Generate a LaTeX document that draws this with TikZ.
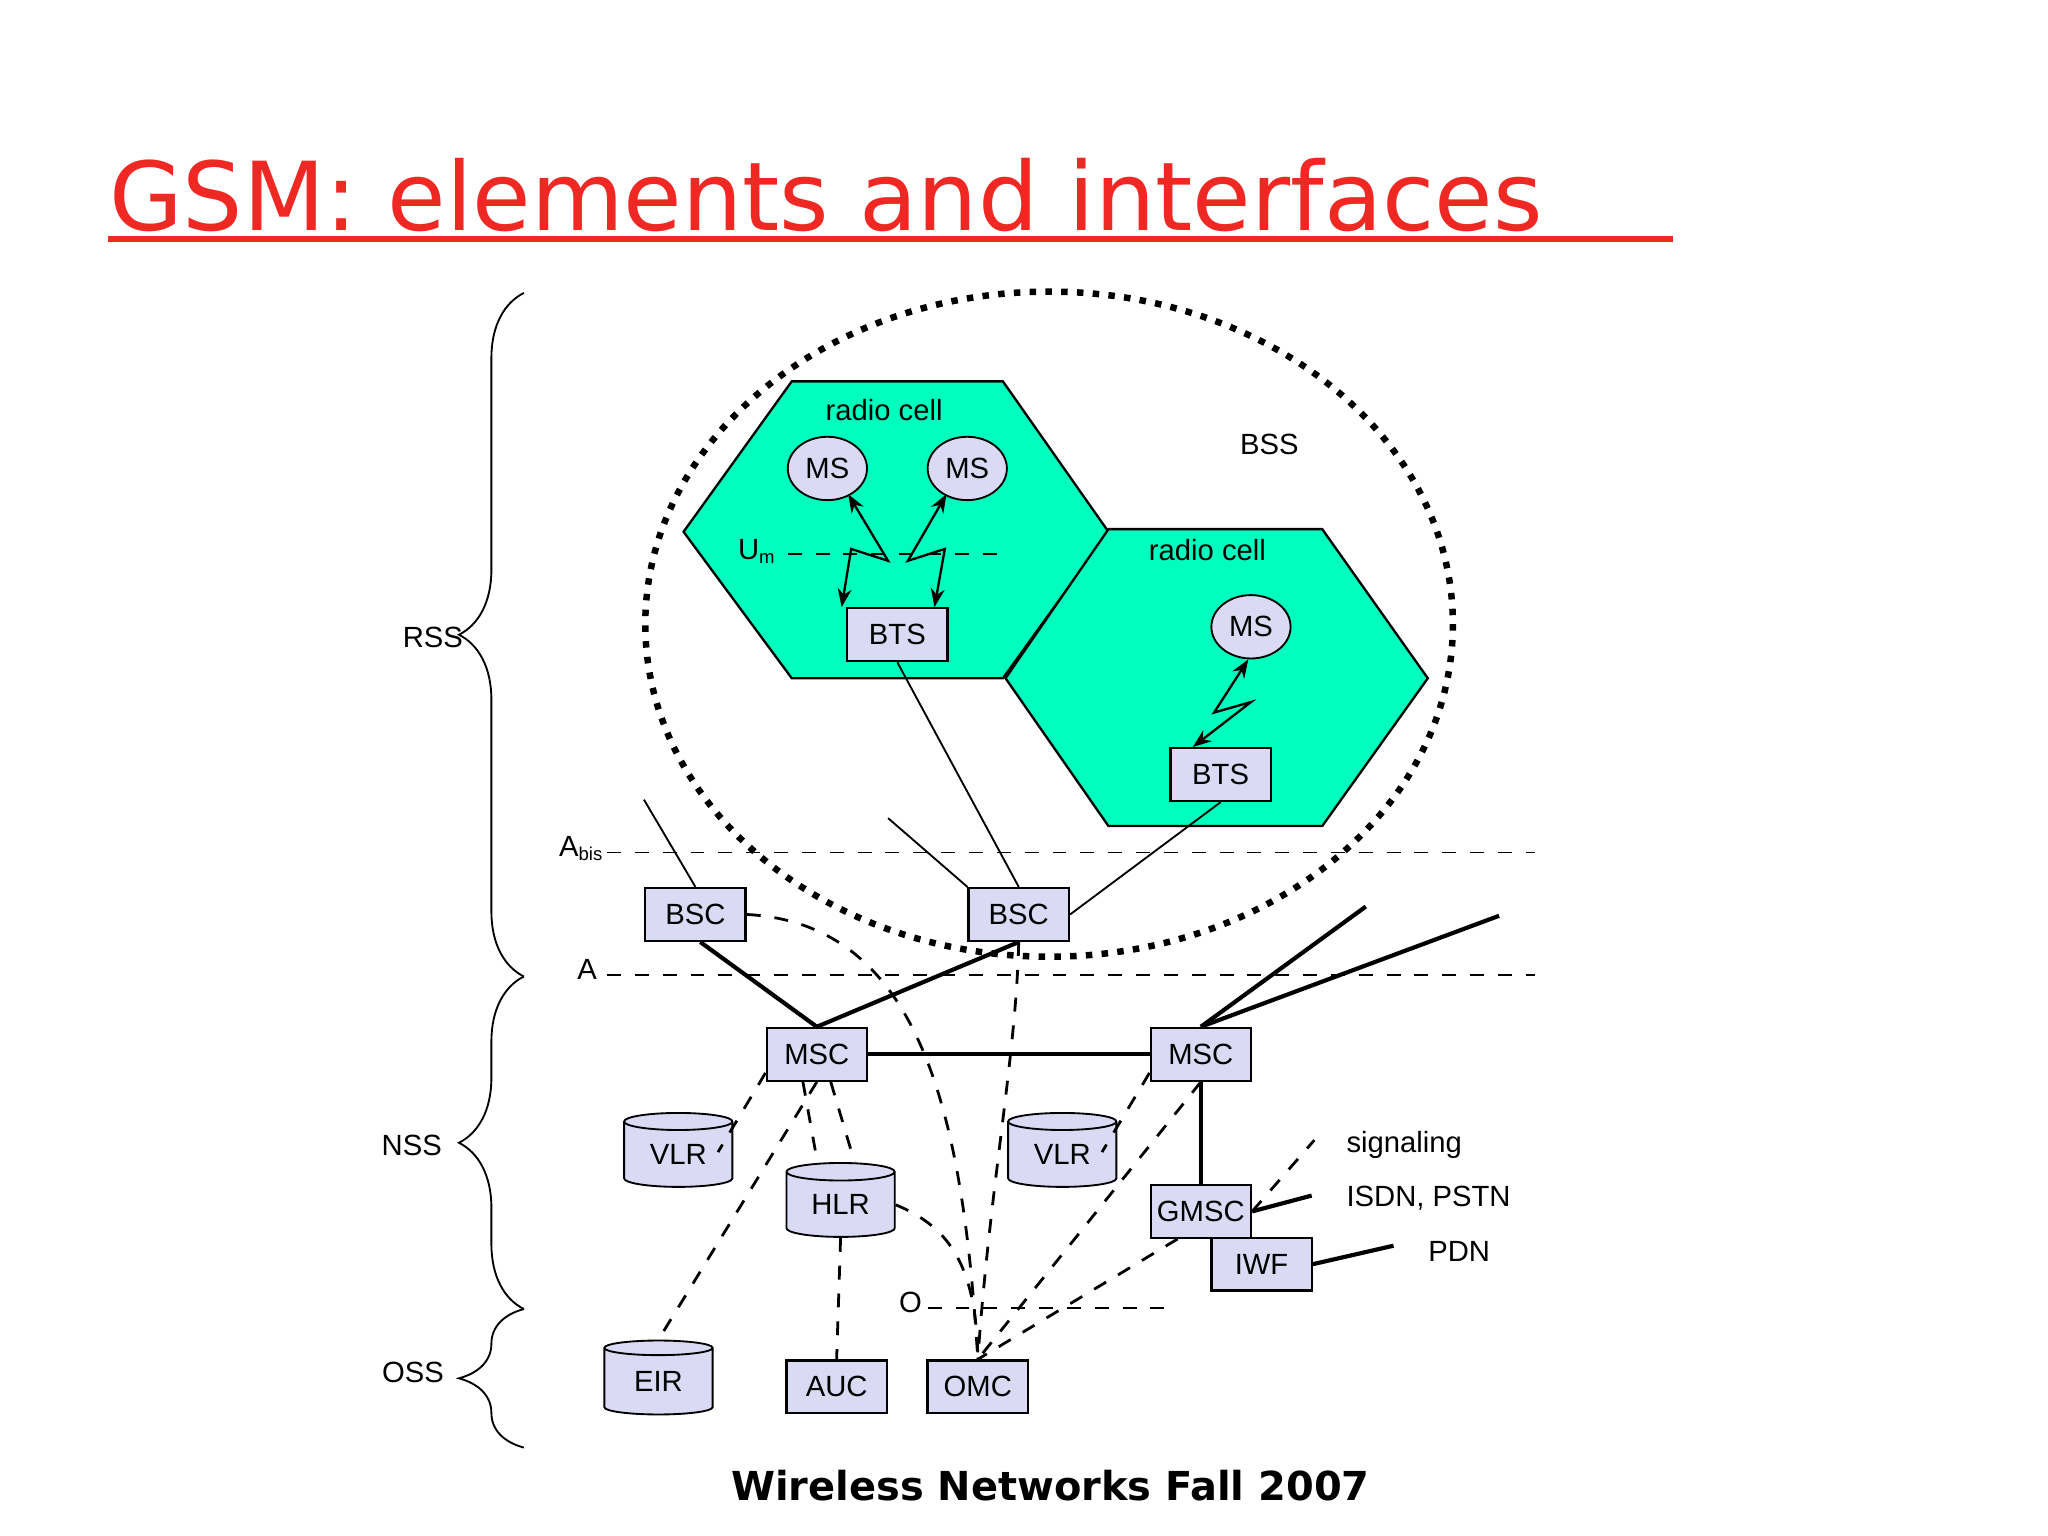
\documentclass[tikz,border=0pt]{standalone}
\usepackage{fontspec}
\setmainfont{Liberation Sans}
\newfontfamily\titlefont{DejaVu Sans}
\usetikzlibrary{shapes.geometric,decorations.pathreplacing,arrows.meta}
\definecolor{cellc}{RGB}{0,255,190}
\definecolor{boxc}{RGB}{218,218,245}
\definecolor{titlec}{RGB}{240,40,35}
\begin{document}
\begin{tikzpicture}[x=0.01cm,y=-0.01cm,
  every node/.style={font=\fontsize{6.3}{7}\selectfont},
  unit/.style={draw,fill=boxc,minimum width=0.76cm,minimum height=0.4cm,inner sep=0pt,line width=0.5pt},
  msnode/.style={draw,fill=boxc,ellipse,minimum width=0.6cm,minimum height=0.48cm,inner sep=0pt},
  db/.style={draw,fill=boxc,cylinder,shape border rotate=90,aspect=0.3,minimum width=0.82cm,minimum height=0.56cm,inner sep=0pt},
  lbl/.style={inner sep=1pt},
  sig/.style={dashed,line width=0.6pt},
  tr/.style={line width=0.9pt},
  bolt/.style={{Stealth[length=4pt]}-{Stealth[length=4pt]},line width=0.5pt}]
\useasboundingbox (0,0) rectangle (1552,1164);
% title
\node[anchor=base west,inner sep=0pt,text=titlec,font=\titlefont\fontsize{20.5}{24}\selectfont] (title) at (82,175) {GSM: elements and interfaces};
\draw[titlec,line width=1.3pt] (82,181) -- (1268,181);
\node[font=\titlefont\bfseries\fontsize{8.6}{10}\selectfont] (foot) at (796,1126) {Wireless Networks Fall 2007};
% cells
\draw[fill=cellc,line width=0.5pt] (518,403)--(600,289)--(760,289)--(840,403)--(760,514)--(600,514)--cycle;
\draw[fill=cellc,line width=0.5pt] (762,514)--(840,401)--(1002,401)--(1082,514)--(1002,626)--(840,626)--cycle;
\draw[dotted,line width=1.4pt] (795,473) ellipse [x radius=306,y radius=252];
\node (rc1) at (670,311) {radio cell};
\node (rc2) at (915,417) {radio cell};
\node (bss) at (962,337) {BSS};
\node[msnode] (ms1) at (627,355) {MS};
\node[msnode] (ms2) at (733,355) {MS};
\node[msnode] (ms3) at (948,475) {MS};
\node[unit] (bts1) at (680,481) {BTS};
\node[unit] (bts2) at (925,587) {BTS};
\node (um) at (574,418) {U\textsubscript{\fontsize{4}{4}\selectfont m}};
\coordinate (um1) at (597,420); \coordinate (um2) at (760,420);
\draw[dashed] (um1) -- (um2);
\draw[bolt] (ms1.south east) ++(-6,2) -- (673,425) -- (645,416) -- ([xshift=-12]bts1.north);
\draw[bolt] (ms2.south west) ++(6,2) -- (688,425) -- (716,416) -- ([xshift=8]bts1.north);
\draw[bolt] (ms3.south) ++(-2,0) -- (920,540) -- (948,532) -- ([xshift=-6]bts2.north);
% BSCs
\node[unit] (bsc1) at (527,693) {BSC};
\node[unit] (bsc2) at (772,693) {BSC};
\coordinate (l1) at (488,606); \coordinate (l2) at (673,620);
\draw (bts1.south) -- (bsc2.north);
\draw (bts2.south) -- (bsc2.east);
\draw (l1) -- (bsc1.north);
\draw (l2) -- (bsc2.north west);
% interfaces
\node (abis) at (441,643) {A\textsubscript{\fontsize{4}{4}\selectfont bis}};
\node (aif) at (445,735) {A};
\coordinate (ab1) at (460,646); \coordinate (ab2) at (1163,646);
\coordinate (a1) at (460,739); \coordinate (a2) at (1163,739);
\draw[dashed] (ab1) -- (ab2);
\draw[dashed] (a1) -- (a2);
% NSS
\node[unit] (msc1) at (619,799) {MSC};
\node[unit] (msc2) at (910,799) {MSC};
\node[unit] (gmsc) at (910,918) {GMSC};
\node[unit] (iwf) at (956,958) {IWF};
\node[db] (vlr1) at (514,875) {VLR};
\node[db] (vlr2) at (805,875) {VLR};
\node[db] (hlr) at (637,913) {HLR};
\node[db] (eir) at (499,1047) {EIR};
\node[unit] (auc) at (634,1051) {AUC};
\node[unit] (omc) at (741,1051) {OMC};
\coordinate (x1) at (1035,687); \coordinate (x2) at (1136,694);
\draw[tr] ([xshift=-10]bsc1.south east) -- (msc1.north);
\draw[tr] (bsc2.south) -- (msc1.north);
\draw[tr] (msc1) -- (msc2);
\draw[tr] (msc2.north) -- (x1);
\draw[tr] (msc2.north) -- (x2);
\draw[tr] (msc2.south) -- (gmsc.north);
% signalling
\draw[sig] (bsc1.east) .. controls (700,700) and (730,850) .. (omc.north);
\draw[sig] (bsc2.south) .. controls (770,800) and (750,900) .. (omc.north);
\draw[sig] ([yshift=-4]msc1.west) -- ([yshift=-8]vlr1.north east);
\draw[sig] ([xshift=-3]msc1.south) -- ([xshift=-5]hlr.north);
\draw[sig] ([xshift=3]msc1.south) -- ([xshift=3]hlr.north);
\draw[sig] (msc1.south) -- (eir.north);
\draw[sig] ([yshift=-4]msc2.west) -- ([yshift=-8]vlr2.north east);
\draw[sig] (msc2.south) -- (omc.north);
\draw[sig] ([xshift=-5]gmsc.south) -- (omc.north);
\draw[sig] (hlr.east) .. controls (720,930) and (740,960) .. (omc.north);
\draw[sig] (hlr.south) -- (auc.north);
\node (oif) at (690,987) {O};
\coordinate (o1) at (703,991); \coordinate (o2) at (888,991);
\draw[dashed] (o1) -- (o2);
% legend
\coordinate (sg) at (996,864); \coordinate (is) at (994,906); \coordinate (pd) at (1056,944);
\draw[sig] (gmsc.east) -- (sg);
\draw[tr] (gmsc.east) -- (is);
\draw[tr] (iwf.east) -- (pd);
\node[anchor=west] (sgl) at (1008,868) {signaling};
\node[anchor=west] (isl) at (1008,908) {ISDN, PSTN};
\node[anchor=west] (pdl) at (1070,948) {PDN};
% braces
\coordinate (b0) at (397,222); \coordinate (b1) at (397,740);
\coordinate (b2) at (397,992); \coordinate (b3) at (397,1097);
\draw[decorate,decoration={brace,amplitude=14}] (b1) -- (b0);
\draw[decorate,decoration={brace,amplitude=14}] (b2) -- (b1);
\draw[decorate,decoration={brace,amplitude=14}] (b3) -- (b2);
\node (rss) at (328,483) {RSS};
\node (nss) at (312,868) {NSS};
\node (oss) at (313,1040) {OSS};
\end{tikzpicture}
\end{document}
